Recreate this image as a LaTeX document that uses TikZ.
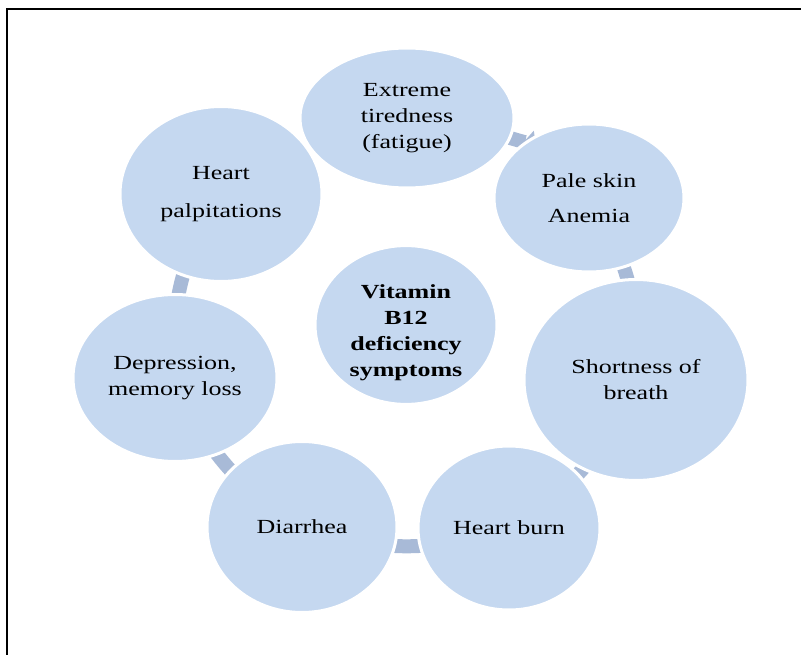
\documentclass[tikz,border=0pt]{standalone}
\usepackage{fontspec}
\setmainfont[FakeStretch=1.3]{Liberation Serif}
\usetikzlibrary{shapes.geometric,arrows.meta}
\definecolor{bubble}{RGB}{197,216,240}
\definecolor{conncol}{RGB}{168,186,215}
\tikzset{
  bub/.style={ellipse, fill=bubble, draw=white, line width=3pt, inner sep=0pt, align=center,
    font=\fontsize{20}{26}\selectfont},
  conn/.style={draw=conncol, line width=14pt},
}
\begin{document}
\begin{tikzpicture}[x=1pt,y=-1pt]
\useasboundingbox (0,0) rectangle (801,655);
\draw[line width=1.5pt] (7,655) -- (7,9) -- (801,9);
% positions
\coordinate (p1) at (407,118);
\coordinate (p2) at (589,198);
\coordinate (p3) at (636,380);
\coordinate (p4) at (509,528);
\coordinate (p5) at (302,527);
\coordinate (p6) at (175,378);
\coordinate (p7) at (221,194);
% connectors (behind the bubbles)
\draw[conn, -{Triangle[length=16pt,width=26pt]}, shorten >=70pt] (p1) to[bend left=18] (p2);
\draw[conn] (p2) to[bend left=18] (p3);
\draw[conn] (p3) to[bend left=18] (p4);
\draw[conn] (p4) to[bend left=18] (p5);
\draw[conn] (p5) to[bend left=18] (p6);
\draw[conn] (p6) to[bend left=18] (p7);
% bubbles
\node[bub, minimum width=214pt, minimum height=140pt] (n1) at (p1) {Extreme\\tiredness\\(fatigue)};
\node[bub, minimum width=190pt, minimum height=148pt] (n2) at (p2) {Pale skin\\[9pt]Anemia};
\node[bub, minimum width=224pt, minimum height=201pt] (n3) at (p3) {Shortness of\\breath};
\node[bub, minimum width=182pt, minimum height=164pt] (n4) at (p4) {Heart burn};
\node[bub, minimum width=190pt, minimum height=171pt] (n5) at (p5) {Diarrhea};
\node[bub, minimum width=204pt, minimum height=167pt] (n6) at (p6) {Depression,\\memory loss};
\node[bub, minimum width=202pt, minimum height=175pt] (n7) at (p7) {Heart\\[12pt]palpitations};
\node[bub, minimum width=182pt, minimum height=158pt, font=\fontsize{20}{26}\selectfont\bfseries] (c) at (406,325) {\rule{0pt}{30pt}Vitamin\\B12\\deficiency\\symptoms};
\end{tikzpicture}
\end{document}
